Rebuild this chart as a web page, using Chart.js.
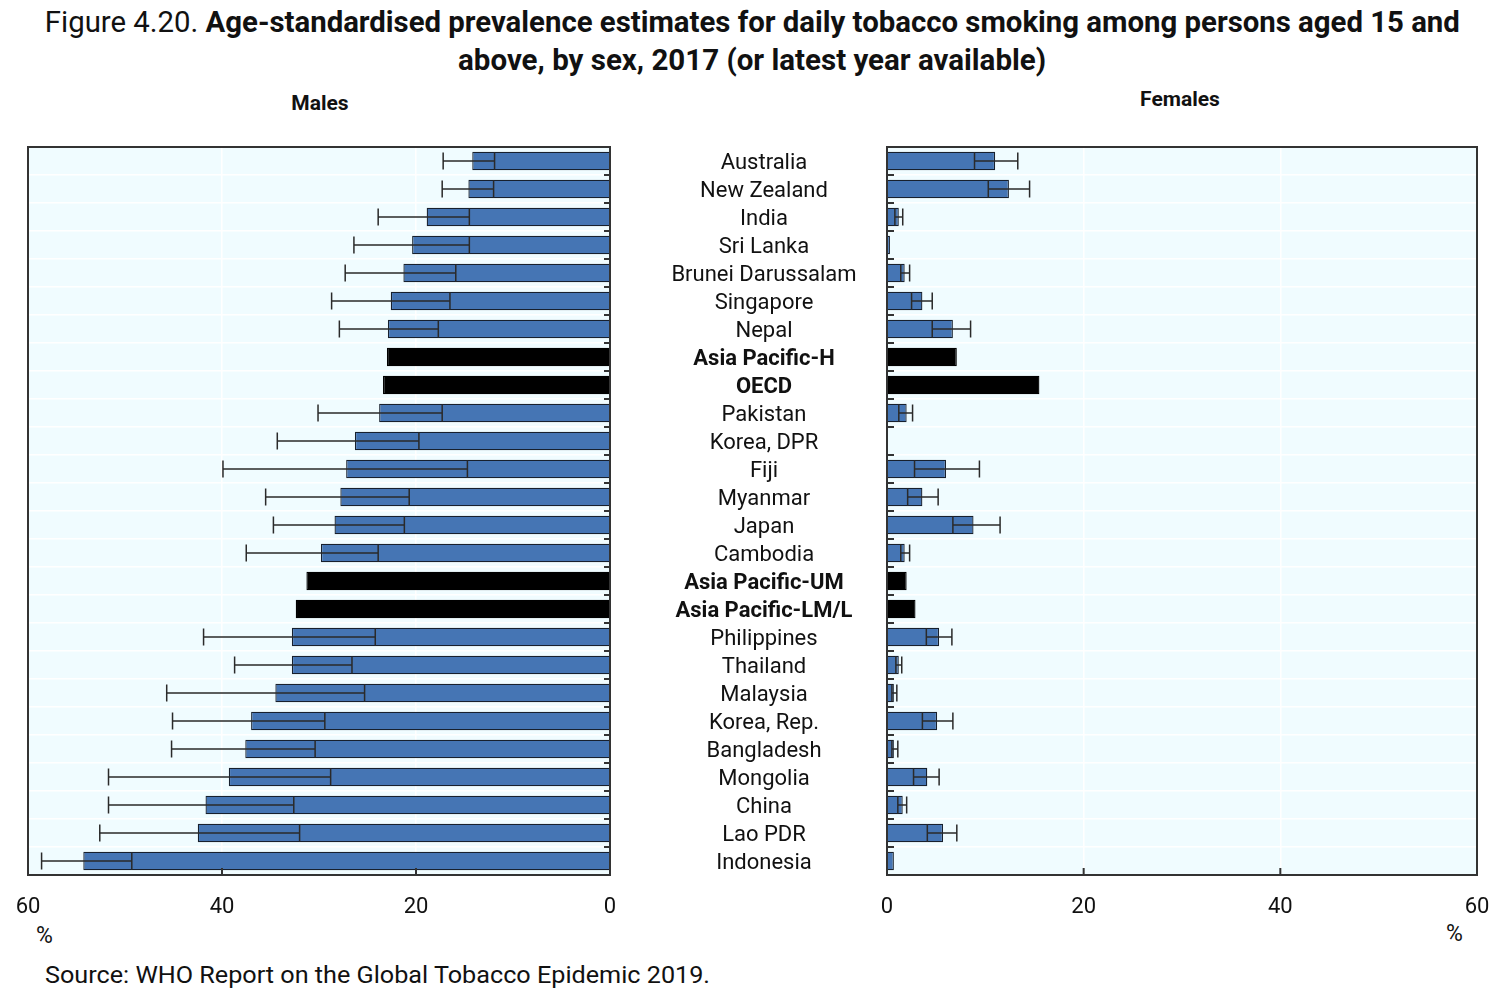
<!DOCTYPE html>
<html>
<head>
<meta charset="utf-8">
<script src="https://cdn.jsdelivr.net/npm/chart.js@4.4.1/dist/chart.umd.min.js"></script>
<style>
  body { margin: 0; width: 1504px; height: 998px; background: #fff; position: relative; overflow: hidden; font-family: Roboto, sans-serif; color: #111; }
  canvas { position: absolute; left: 0; top: 0; }
  .line { position: absolute; left: 0; width: 1504px; text-align: center; white-space: nowrap; }
  .line span { display: inline-block; transform-origin: center; }
  .txt { position: absolute; white-space: nowrap; }
</style>
</head>
<body>
<div class="line" style="top:3px;font-size:30px;line-height:38px;"><span id="t1">Figure 4.20. <b>Age-standardised prevalence estimates for daily tobacco smoking among persons aged 15 and</b></span></div>
<div class="line" style="top:41px;font-size:30px;line-height:38px;"><span id="t2"><b>above, by sex, 2017 (or latest year available)</b></span></div>
<div class="txt" id="males" style="left:320px;top:91px;font-size:21px;font-weight:bold;">Males</div>
<div class="txt" id="females" style="left:1180px;top:87px;font-size:21px;font-weight:bold;">Females</div>
<div class="txt" style="left:36px;top:922px;font-size:23px;">%</div>
<div class="txt" style="left:1446px;top:920px;font-size:23px;">%</div>
<div class="txt" id="source" style="left:45px;top:961px;font-size:24px;">Source: WHO Report on the Global Tobacco Epidemic 2019.</div>

<canvas id="malesChart" width="1504" height="998"></canvas>
<canvas id="femalesChart" width="1504" height="998"></canvas>

<script>
// data (%)
const categories = ['Australia', 'New Zealand', 'India', 'Sri Lanka', 'Brunei Darussalam', 'Singapore', 'Nepal',
  'Asia Pacific-H', 'OECD', 'Pakistan', 'Korea, DPR', 'Fiji', 'Myanmar', 'Japan', 'Cambodia',
  'Asia Pacific-UM', 'Asia Pacific-LM/L', 'Philippines', 'Thailand', 'Malaysia', 'Korea, Rep.',
  'Bangladesh', 'Mongolia', 'China', 'Lao PDR', 'Indonesia'];
const aggregates = ['Asia Pacific-H', 'OECD', 'Asia Pacific-UM', 'Asia Pacific-LM/L'];

const malesValue = [14.2, 14.6, 18.9, 20.4, 21.3, 22.6, 22.9, 23.0, 23.4, 23.8, 26.3, 27.2, 27.8, 28.4, 29.8,
  31.3, 32.4, 32.8, 32.8, 34.5, 37.0, 37.6, 39.3, 41.7, 42.5, 54.3];
const malesLow = [11.9, 12.0, 14.5, 14.5, 15.9, 16.5, 17.7, null, null, 17.3, 19.7, 14.7, 20.7, 21.2, 23.9,
  null, null, 24.2, 26.6, 25.3, 29.4, 30.4, 28.8, 32.6, 32.0, 49.3];
const malesHigh = [17.2, 17.3, 23.9, 26.4, 27.3, 28.7, 27.9, null, null, 30.1, 34.3, 39.9, 35.5, 34.7, 37.5,
  null, null, 41.9, 38.7, 45.7, 45.1, 45.2, 51.7, 51.7, 52.6, 58.6];

const femalesValue = [11.0, 12.4, 1.2, 0.3, 1.8, 3.6, 6.7, 7.1, 15.5, 2.0, null, 6.0, 3.6, 8.8, 1.8,
  2.0, 2.9, 5.3, 1.2, 0.7, 5.1, 0.7, 4.1, 1.6, 5.7, 0.7];
const femalesLow = [8.9, 10.3, 0.8, null, 1.4, 2.5, 4.6, null, null, 1.2, null, 2.8, 2.1, 6.7, 1.4,
  null, null, 4.0, 0.9, 0.5, 3.6, 0.5, 2.7, 1.1, 4.1, null];
const femalesHigh = [13.3, 14.5, 1.6, null, 2.3, 4.6, 8.5, null, null, 2.6, null, 9.4, 5.2, 11.5, 2.3,
  null, null, 6.6, 1.5, 1.0, 6.7, 1.1, 5.3, 2.0, 7.1, null];

const xMin = 0, xMax = 60, xStep = 20;

const BLUE = '#4575B4';
const BG = '#F0FCFF';
const FRAME = '#333';

// squeeze html texts to the widths of the condensed font in the figure
function fit(id, target, origin) {
  const el = document.getElementById(id);
  const w = el.getBoundingClientRect().width;
  el.style.display = 'inline-block';
  el.style.transformOrigin = origin || 'center';
  el.style.transform = 'scaleX(' + (target / w) + ')';
}
fit('t1', 1415);
fit('t2', 588);
fit('source', 665, 'left');
['males', 'females'].forEach(id => {
  const el = document.getElementById(id);
  const w = el.getBoundingClientRect().width;
  el.style.left = (parseFloat(el.style.left) - w / 2) + 'px';
});

const isAgg = i => aggregates.includes(categories[i]);

const panelPlugin = {
  id: 'panel',
  beforeDraw(chart) {
    const a = chart.chartArea;
    const ctx = chart.ctx;
    ctx.save();
    ctx.fillStyle = BG;
    ctx.fillRect(a.left, a.top, a.right - a.left, a.bottom - a.top);
    ctx.restore();
  },
  afterDatasetsDraw(chart, args, opts) {
    const ctx = chart.ctx;
    const xs = chart.scales.x, ys = chart.scales.y;
    ctx.save();
    ctx.strokeStyle = '#2a2a2a';
    ctx.lineWidth = 1.5;
    opts.low.forEach((lo, i) => {
      const hi = opts.high[i];
      if (lo == null || hi == null) return;
      const y = ys.getPixelForValue(i);
      const x1 = xs.getPixelForValue(lo), x2 = xs.getPixelForValue(hi);
      ctx.beginPath();
      ctx.moveTo(x1, y); ctx.lineTo(x2, y);
      ctx.moveTo(x1, y - 8.5); ctx.lineTo(x1, y + 8.5);
      ctx.moveTo(x2, y - 8.5); ctx.lineTo(x2, y + 8.5);
      ctx.stroke();
    });
    ctx.restore();
  },
  afterDraw(chart, args, opts) {
    const ctx = chart.ctx;
    const a = chart.chartArea;
    const xs = chart.scales.x, ys = chart.scales.y;
    ctx.save();
    ctx.strokeStyle = FRAME;
    ctx.lineWidth = 2;
    ctx.strokeRect(a.left, a.top, a.right - a.left, a.bottom - a.top);
    // small inward ticks between rows
    ctx.beginPath();
    for (let i = 1; i < categories.length; i++) {
      const yb = (ys.getPixelForValue(i - 1) + ys.getPixelForValue(i)) / 2;
      if (opts.side === 'right') { ctx.moveTo(a.right - 6, yb); ctx.lineTo(a.right, yb); }
      else { ctx.moveTo(a.left, yb); ctx.lineTo(a.left + 7, yb); }
    }
    [20, 40].forEach(v => {
      const x = xs.getPixelForValue(v);
      ctx.moveTo(x, a.bottom); ctx.lineTo(x, a.bottom - 7);
    });
    ctx.stroke();
    ctx.restore();
  }
};

// centre the country labels at x=764 (y axis on the right of the male panel)
const mctx = document.createElement('canvas').getContext('2d');
let widest = 0;
categories.forEach((c, i) => {
  mctx.font = (isAgg(i) ? 'normal bold ' : 'normal normal ') + '22px Roboto';
  widest = Math.max(widest, mctx.measureText(c).width);
});
const labelPad = 764 - 610 - widest / 2;

function makeChart(id, values, low, high, isMale) {
  return new Chart(document.getElementById(id), {
    type: 'bar',
    data: {
      labels: categories,
      datasets: [{
        data: values,
        backgroundColor: values.map((v, i) => isAgg(i) ? '#000' : BLUE),
        borderColor: values.map((v, i) => isAgg(i) ? '#000' : '#17202e'),
        borderWidth: 1.3,
        barPercentage: 0.66,
        categoryPercentage: 1
      }]
    },
    options: {
      indexAxis: 'y',
      responsive: false,
      animation: false,
      devicePixelRatio: 1,
      layout: {
        padding: isMale
          ? { left: 28, right: 1504 - 610 - 308, top: 147, bottom: 73 }
          : { left: 887, right: 27, top: 147, bottom: 73 }
      },
      plugins: {
        legend: { display: false },
        tooltip: { enabled: false },
        panel: { low: low, high: high, side: isMale ? 'right' : 'left' }
      },
      scales: {
        x: {
          reverse: isMale,
          min: xMin,
          max: xMax,
          border: { display: false },
          grid: { color: '#ffffff', lineWidth: 1.5, drawTicks: true, tickLength: 19, tickColor: 'rgba(0,0,0,0)' },
          ticks: { stepSize: xStep, padding: 0, color: '#111', font: { family: 'Roboto', size: 22 } },
          afterFit(s) { s.height = 50; }
        },
        y: {
          position: isMale ? 'right' : 'left',
          border: { display: false },
          grid: { color: '#ffffff', lineWidth: 1.5, offset: true, drawTicks: false },
          ticks: {
            display: isMale,
            crossAlign: 'center',
            padding: labelPad,
            labelOffset: 2,
            color: '#111',
            autoSkip: false,
            font: ctx => ({ family: 'Roboto', size: 22, weight: isAgg(ctx.index) ? 'bold' : 'normal' })
          },
          afterFit(s) { s.width = isMale ? 308 : 0; }
        }
      }
    },
    plugins: [panelPlugin]
  });
}

makeChart('malesChart', malesValue, malesLow, malesHigh, true);
makeChart('femalesChart', femalesValue, femalesLow, femalesHigh, false);
</script>
</body>
</html>
